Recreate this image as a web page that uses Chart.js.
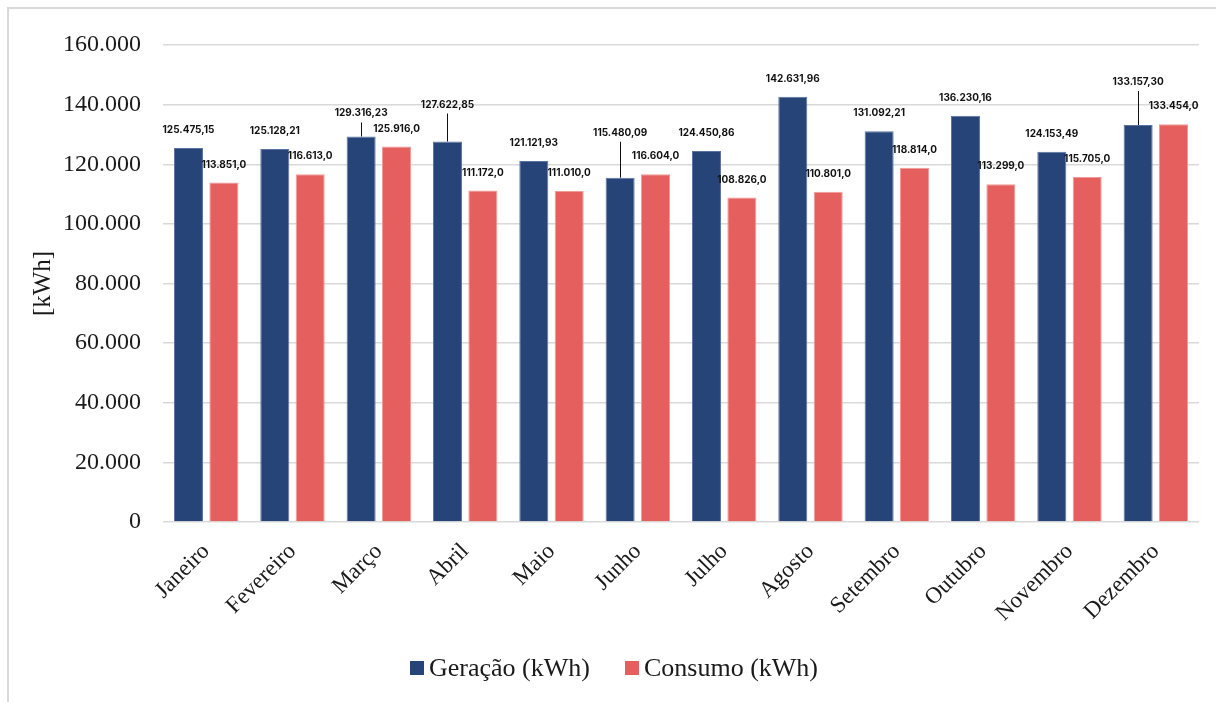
<!DOCTYPE html>
<html>
<head>
<meta charset="utf-8">
<script src="https://cdn.jsdelivr.net/npm/chart.js@4.4.1/dist/chart.umd.min.js"></script>
<style>
  html, body { margin: 0; padding: 0; background: #fff; }
  #wrap { position: relative; width: 1216px; height: 702px; overflow: hidden; }
  #frame { position: absolute; left: 7px; top: 7px; width: 1300px; height: 800px;
           border-top: 2px solid #d9d9d9; border-left: 2px solid #d9d9d9; box-sizing: border-box; }
  #chart { position: absolute; left: 0; top: 0; }
  #legend { position: absolute; left: 410px; top: 653px; display: flex; align-items: center;
            font-family: "Liberation Serif", "Times New Roman", serif; font-size: 26px; color: #1a1a1a; line-height: 30px; }
  #legend .item { display: flex; align-items: center; margin-right: 35px; }
  #legend .box { width: 14px; height: 14px; margin-right: 5px; }
</style>
</head>
<body>
<div id="wrap">
  <div id="frame"></div>
  <canvas id="chart" width="1216" height="702"></canvas>
  <div id="legend">
    <div class="item"><span class="box" style="background:#264478"></span>Geração (kWh)</div>
    <div class="item"><span class="box" style="background:#e45f5d"></span>Consumo (kWh)</div>
  </div>
</div>
<script>
// monthly data
const meses = ['Janeiro', 'Fevereiro', 'Março', 'Abril', 'Maio', 'Junho',
  'Julho', 'Agosto', 'Setembro', 'Outubro', 'Novembro', 'Dezembro'];
const geracao = [125475.15, 125128.21, 129316.23, 127622.85, 121121.93, 115480.09,
  124450.86, 142631.96, 131092.21, 136230.16, 124153.49, 133157.30];
const consumo = [113851, 116613, 125916, 111172, 111010, 116604,
  108826, 110801, 118814, 113299, 115705, 133454];
const yTicks = [0, 20000, 40000, 60000, 80000, 100000, 120000, 140000, 160000];

// extra lift (px) for the geração labels that sit higher, with a leader line
const labelLift = [0, 0, 5, 19, 0, 27, 0, 0, 0, 0, 0, 25];

// pt-BR number format: 125.475,15
function fmt(v, dec) {
  const parts = v.toFixed(dec).split('.');
  const int = parts[0].replace(/\B(?=(\d{3})+(?!\d))/g, '.');
  return dec > 0 ? int + ',' + parts[1] : int;
}

// draws the value labels over the bars
const barLabels = {
  id: 'barLabels',
  afterDatasetsDraw(chart) {
    const ctx = chart.ctx;
    ctx.save();
    ctx.font = '700 10px Inter, "Noto Sans", sans-serif';
    ctx.fillStyle = '#111';
    ctx.strokeStyle = '#111';
    ctx.lineWidth = 1;
    ctx.textAlign = 'center';
    ctx.textBaseline = 'middle';
    chart.data.datasets.forEach((ds, di) => {
      chart.getDatasetMeta(di).data.forEach((bar, i) => {
        const lift = di === 0 ? labelLift[i] : 0;
        const ty = bar.y - 18 - lift;
        if (lift > 0) {
          ctx.beginPath();
          ctx.moveTo(Math.round(bar.x) + 0.5, bar.y);
          ctx.lineTo(Math.round(bar.x) + 0.5, ty + 9);
          ctx.stroke();
        }
        ctx.fillText(fmt(ds.data[i], di === 0 ? 2 : 1), bar.x, ty);
      });
    });
    ctx.restore();
  }
};

const ctx = document.getElementById('chart').getContext('2d');
new Chart(ctx, {
  type: 'bar',
  data: {
    labels: meses,
    datasets: [
      {
        label: 'Geração (kWh)',
        data: geracao,
        backgroundColor: '#264478',
        borderColor: '#5b73a3',
        borderWidth: 1,
        categoryPercentage: 0.82,
        barPercentage: 0.82,
      },
      {
        label: 'Consumo (kWh)',
        data: consumo,
        backgroundColor: '#e45f5d',
        borderColor: '#f09a98',
        borderWidth: 1,
        categoryPercentage: 0.82,
        barPercentage: 0.82,
      },
    ],
  },
  options: {
    responsive: false,
    animation: false,
    layout: { padding: { top: 45, right: 17, left: 0, bottom: 0 } },
    plugins: {
      legend: { display: false },
      tooltip: { enabled: false },
    },
    scales: {
      x: {
        grid: { display: false },
        border: { display: false },
        ticks: {
          color: '#1a1a1a',
          font: { family: '"Liberation Serif", "Times New Roman", serif', size: 23 },
          maxRotation: 45,
          minRotation: 45,
          padding: 8,
        },
        afterFit(scale) { scale.height = 180; },
      },
      y: {
        min: 0,
        max: 160000,
        afterBuildTicks(scale) { scale.ticks = yTicks.map(v => ({ value: v })); },
        grid: { color: '#d9d9d9', lineWidth: 1.5, drawTicks: false },
        border: { display: false },
        ticks: {
          color: '#1a1a1a',
          font: { family: '"Liberation Serif", "Times New Roman", serif', size: 24 },
          padding: 22,
          callback: v => fmt(v, 0),
        },
        title: {
          display: true,
          text: '[kWh]',
          color: '#1a1a1a',
          font: { family: '"Liberation Serif", "Times New Roman", serif', size: 25 },
          padding: { top: 28, bottom: 0 },
        },
        afterFit(scale) { scale.width = 163; },
      },
    },
  },
  plugins: [barLabels],
});
</script>
</body>
</html>
